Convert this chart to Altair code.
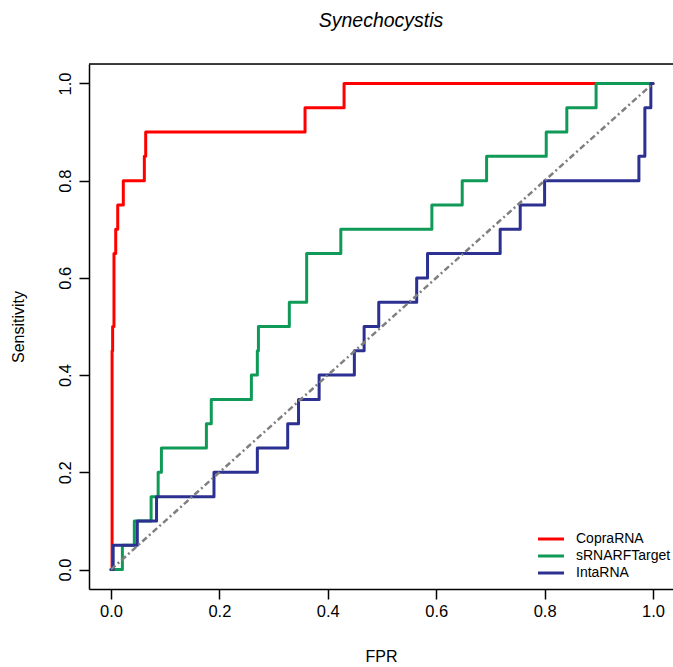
import altair as alt
import pandas as pd

chart_title = "Synechocystis"
x_title = "FPR"
y_title = "Sensitivity"
series_names = ["CopraRNA", "sRNARFTarget", "IntaRNA"]
series_colors = ["#FF0000", "#109A57", "#2C3091"]

copra_fpr = [0.0, 0.002, 0.003, 0.0055, 0.0055, 0.0055, 0.0087, 0.0124, 0.0227, 0.0615, 0.064, 0.358, 0.43, 1.0]
copra_tpr = [0.0, 0.45, 0.50, 0.55, 0.60, 0.65, 0.70, 0.75, 0.80, 0.85, 0.90, 0.95, 1.00, 1.00]

srnarf_fpr = [0.0, 0.021, 0.043, 0.074, 0.087, 0.093, 0.176, 0.185, 0.259, 0.270, 0.272, 0.329, 0.361, 0.361,
              0.424, 0.592, 0.648, 0.693, 0.803, 0.841, 0.895, 1.0]
srnarf_tpr = [0.0, 0.05, 0.10, 0.15, 0.20, 0.25, 0.30, 0.35, 0.40, 0.45, 0.50, 0.55, 0.60, 0.65,
              0.70, 0.75, 0.80, 0.85, 0.90, 0.95, 1.00, 1.00]

inta_fpr = [0.0, 0.004, 0.0485, 0.084, 0.190, 0.270, 0.326, 0.346, 0.384, 0.449, 0.467, 0.494, 0.564, 0.584,
            0.718, 0.755, 0.800, 0.974, 0.985, 0.985, 0.996, 1.0]
inta_tpr = [0.0, 0.05, 0.10, 0.15, 0.20, 0.25, 0.30, 0.35, 0.40, 0.45, 0.50, 0.55, 0.60, 0.65,
            0.70, 0.75, 0.80, 0.85, 0.90, 0.95, 1.00, 1.00]

diag_fpr = [0.0, 1.0]
diag_tpr = [0.0, 1.0]

x_ticks = [0.0, 0.2, 0.4, 0.6, 0.8, 1.0]
y_ticks = [0.0, 0.2, 0.4, 0.6, 0.8, 1.0]

rows = []
for name, fx, ty in zip(series_names, [copra_fpr, srnarf_fpr, inta_fpr], [copra_tpr, srnarf_tpr, inta_tpr]):
    for i, (a, b) in enumerate(zip(fx, ty)):
        rows.append({"method": name, "fpr": a, "tpr": b, "idx": i})
df = pd.DataFrame(rows)
diag_df = pd.DataFrame({"fpr": diag_fpr, "tpr": diag_tpr})

W, H = 584, 525
FONT = "Liberation Sans"

xscale = alt.Scale(domain=[-0.0406, 1.0369], nice=False, zero=False)
yscale = alt.Scale(domain=[-0.04, 1.04], nice=False, zero=False)

xaxis = alt.Axis(values=x_ticks, format=".1f", title=x_title, grid=False,
                 domainColor="black", domainWidth=1.5, tickColor="black", tickWidth=1.5, tickSize=10,
                 labelFontSize=16.5, labelFont=FONT, labelColor="black", labelPadding=4,
                 labelFlush=False, labelOverlap=False,
                 titleFontSize=16, titleFont=FONT, titleFontWeight="normal", titleColor="black",
                 titleY=67, titleBaseline="middle")
yaxis = alt.Axis(values=y_ticks, format=".1f", title=y_title, grid=False,
                 domainColor="black", domainWidth=1.5, tickColor="black", tickWidth=1.5, tickSize=10,
                 labelFontSize=16.5, labelFont=FONT, labelColor="black", labelPadding=6,
                 labelAngle=270, labelAlign="center", labelBaseline="bottom",
                 labelFlush=False, labelOverlap=False,
                 titleFontSize=16, titleFont=FONT, titleFontWeight="normal", titleColor="black",
                 titleAngle=270, titleX=-71, titleY=H / 2, titleBaseline="middle", titleAlign="center")

color = alt.Color("method:N",
                  scale=alt.Scale(domain=series_names, range=series_colors),
                  legend=alt.Legend(title=None, orient="none", legendX=454, legendY=467,
                                    symbolType="M-2,0H2", symbolSize=169, symbolStrokeWidth=3,
                                    labelFontSize=14, labelFont=FONT, labelColor="black",
                                    rowPadding=2, labelOffset=17, padding=0))


def curve(name):
    return (alt.Chart(df)
            .transform_filter(alt.datum.method == name)
            .mark_line(interpolate="step-after", strokeWidth=3, strokeCap="round", strokeJoin="round")
            .encode(x=alt.X("fpr:Q", scale=xscale, axis=xaxis),
                    y=alt.Y("tpr:Q", scale=yscale, axis=yaxis),
                    color=color,
                    order="idx:Q"))


diag = (alt.Chart(diag_df)
        .mark_line(color="#7F7F7F", strokeWidth=2.5, strokeDash=[6, 3, 2, 3])
        .encode(x=alt.X("fpr:Q", scale=xscale, axis=xaxis),
                y=alt.Y("tpr:Q", scale=yscale, axis=yaxis)))

top_border = (alt.Chart(pd.DataFrame({"k": [0]}))
              .mark_rule(color="black", strokeWidth=1.5)
              .encode(x=alt.value(0), x2=alt.value(W), y=alt.value(0)))

chart = (alt.layer(curve("CopraRNA"), curve("sRNARFTarget"), curve("IntaRNA"), diag, top_border)
         .properties(width=W, height=H,
                     title=alt.TitleParams(text=chart_title, font=FONT, fontSize=19.5, fontStyle="italic",
                                           fontWeight="normal", color="black", anchor="middle", offset=32),
                     autosize=alt.AutoSizeParams(type="none"),
                     padding={"left": 89, "top": 64, "right": 0, "bottom": 78})
         .configure_view(strokeWidth=0)
         .configure(background="white"))

chart.save("out.html", embed_options={"renderer": "svg", "actions": False})
